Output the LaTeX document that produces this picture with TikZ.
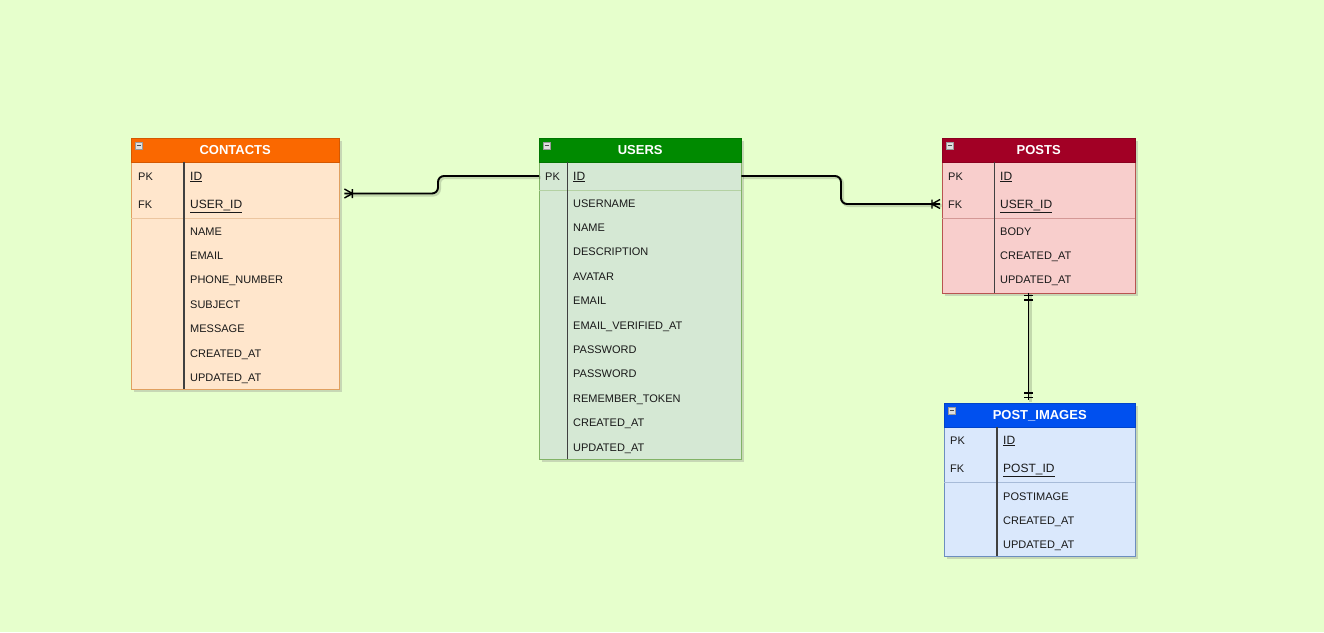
\documentclass[tikz,border=0pt]{standalone}
\usepackage{fontspec}
\setmainfont{Liberation Sans}
\usetikzlibrary{shadows}

\definecolor{canvas}{HTML}{E6FFCC}
\definecolor{contactshead}{HTML}{FA6800}
\definecolor{contactsfill}{HTML}{FFE6CC}
\definecolor{contactsline}{HTML}{E0A060}
\definecolor{usershead}{HTML}{008A00}
\definecolor{usersfill}{HTML}{D5E8D4}
\definecolor{usersline}{HTML}{82B366}
\definecolor{postshead}{HTML}{A20025}
\definecolor{postsfill}{HTML}{F8CECC}
\definecolor{postsline}{HTML}{B85450}
\definecolor{imageshead}{HTML}{0050EF}
\definecolor{imagesfill}{HTML}{DAE8FC}
\definecolor{imagesline}{HTML}{6C8EBF}

\tikzset{
    tbl/.style={anchor=north west, inner sep=0pt,
        drop shadow={shadow xshift=3pt, shadow yshift=-3pt, opacity=0.3}},
    hdr/.style={anchor=north west, inner sep=0pt, minimum height=23.5pt,
        text height=9.4pt, text depth=0pt, text=white,
        font=\bfseries\fontsize{13}{15}\selectfont},
    tag/.style={anchor=west, inner sep=0pt, text height=8pt, text depth=0pt,
        text=black!90, font=\fontsize{11}{13}\selectfont},
    key/.style={tag, font=\fontsize{12}{14}\selectfont},
    field/.style={tag},
    divider/.style={black!75, line width=1.2pt},
    rel/.style={line width=1.9pt, rounded corners=6pt,
        preaction={draw, black, opacity=0.15, line width=3pt,
            transform canvas={shift={(1.5pt,-1.5pt)}}}},
    crowfoot/.pic={\draw[line width=1.4pt] (0,-4.5) -- (8,0) -- (0,4.5) (8,-4.5) -- (8,4.5);},
    onlyone/.pic={\draw[line width=1.4pt] (2.5,-4.5) -- (2.5,4.5) (7,-4.5) -- (7,4.5);},
    minbox/.pic={
        \draw[fill=gray!25, draw=gray!80] (0,0) rectangle (7,7);
        \draw[black!70, line width=1pt] (1.5,3.5) -- (5.5,3.5);
    }
}

\begin{document}
\begin{tikzpicture}[x=1pt,y=-1pt]
    \useasboundingbox (0,0) rectangle (1324,632);
    \fill[canvas] (0,0) rectangle (1324,632);

    % contacts
    \node[tbl, fill=contactsfill, draw=contactsline, minimum width=208pt, minimum height=251pt] (contacts) at (131,138) {};
    \node[hdr, fill=contactshead, draw=contactshead!85!black, minimum width=208pt] (contacts-head) at (131,138) {CONTACTS};
    \pic at (135,142) {minbox};
    \draw[contactsline!60] (131,218) -- (339,218);
    \draw[divider] (184,161.5) -- (184,389);
    \node[tag] (contacts-pk) at (138,176) {PK};
    \node[key] (contacts-id) at (190,176) {\underline{ID}};
    \node[tag] (contacts-fk) at (138,204) {FK};
    \node[key] (contacts-uid) at (190,204) {\underline{USER\_ID}};
    \foreach \f [count=\i from 0] in {NAME, EMAIL, PHONE\_NUMBER, SUBJECT, MESSAGE, CREATED\_AT, UPDATED\_AT}
    {
        \node[field] (contacts-f\i) at (190,231+24.4*\i) {\f};
    }

    % users
    \node[tbl, fill=usersfill, draw=usersline, minimum width=202pt, minimum height=321pt] (users) at (539,138) {};
    \node[hdr, fill=usershead, draw=usershead!85!black, minimum width=202pt] (users-head) at (539,138) {USERS};
    \pic at (543,142) {minbox};
    \draw[usersline!60] (539,190) -- (741,190);
    \draw[divider] (567.5,161.5) -- (567.5,459);
    \node[tag] (users-pk) at (545,176) {PK};
    \node[key] (users-id) at (573,176) {\underline{ID}};
    \foreach \f [count=\i from 0] in {USERNAME, NAME, DESCRIPTION, AVATAR, EMAIL, EMAIL\_VERIFIED\_AT,
        PASSWORD, PASSWORD, REMEMBER\_TOKEN, CREATED\_AT, UPDATED\_AT}
    {
        \node[field] (users-f\i) at (573,203+24.4*\i) {\f};
    }

    % posts
    \node[tbl, fill=postsfill, draw=postsline, minimum width=193pt, minimum height=154.5pt] (posts) at (942,138) {};
    \node[hdr, fill=postshead, draw=postshead!85!black, minimum width=193pt] (posts-head) at (942,138) {POSTS};
    \pic at (946,142) {minbox};
    \draw[postsline!60] (942,218) -- (1135,218);
    \draw[divider] (994.5,161.5) -- (994.5,292.5);
    \node[tag] (posts-pk) at (948,176) {PK};
    \node[key] (posts-id) at (1000,176) {\underline{ID}};
    \node[tag] (posts-fk) at (948,204) {FK};
    \node[key] (posts-uid) at (1000,204) {\underline{USER\_ID}};
    \foreach \f [count=\i from 0] in {BODY, CREATED\_AT, UPDATED\_AT}
    {
        \node[field] (posts-f\i) at (1000,231+24.4*\i) {\f};
    }

    % post images
    \node[tbl, fill=imagesfill, draw=imagesline, minimum width=191pt, minimum height=153pt] (images) at (944,403) {};
    \node[hdr, fill=imageshead, draw=imageshead!85!black, minimum width=191pt] (images-head) at (944,403) {POST\_IMAGES};
    \pic at (948,407) {minbox};
    \draw[imagesline!60] (944,482) -- (1135,482);
    \draw[divider] (997,426.5) -- (997,556);
    \node[tag] (images-pk) at (950,440) {PK};
    \node[key] (images-id) at (1003,440) {\underline{ID}};
    \node[tag] (images-fk) at (950,468) {FK};
    \node[key] (images-pid) at (1003,468) {\underline{POST\_ID}};
    \foreach \f [count=\i from 0] in {POSTIMAGE, CREATED\_AT, UPDATED\_AT}
    {
        \node[field] (images-f\i) at (1003,496+24.4*\i) {\f};
    }

    % relations
    \coordinate[xshift=5pt] (contacts-port) at (contacts.east |- 0,193.5);
    \draw[rel] (users-id -| users.west) -- (438,176) -- (438,193.5) -- (contacts-port);
    \pic at (contacts-port) {crowfoot};

    \coordinate[xshift=-2pt] (posts-port) at (posts-uid -| posts.west);
    \draw[rel] (users-id -| users.east) -- (841,176) -- (841,204) -- (posts-port);
    \pic[rotate=180] at (posts-port) {crowfoot};

    \coordinate (posts-port2) at (posts.south -| 1028.5,0);
    \coordinate[yshift=3pt] (images-port) at (images.north -| 1028.5,0);
    \draw[rel] (posts-port2) -- (images-port);
    \pic[rotate=-90] at (posts-port2) {onlyone};
    \pic[rotate=90] at (images-port) {onlyone};
\end{tikzpicture}
\end{document}
